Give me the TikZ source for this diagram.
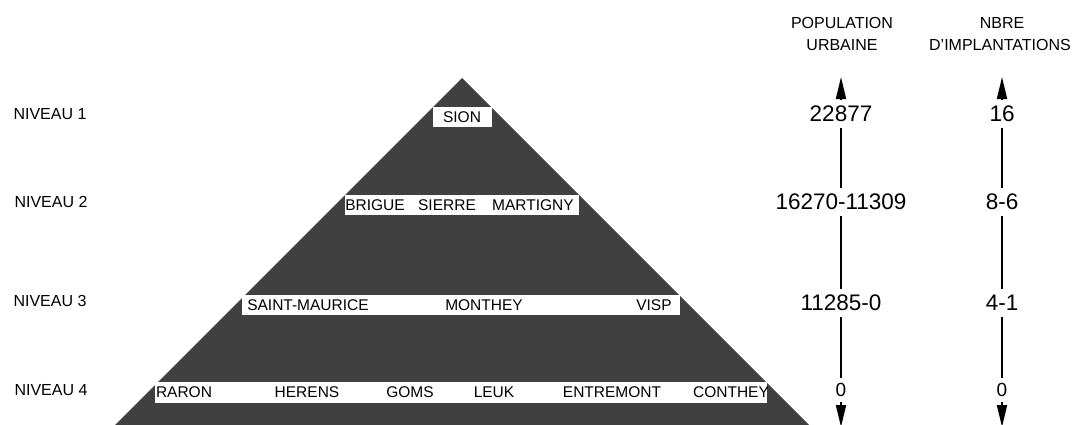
\documentclass[tikz,border=0pt]{standalone}
\usepackage{fontspec}
\setmainfont{Liberation Sans}
\usetikzlibrary{arrows.meta}
\tikzset{
  lvl/.style={anchor=west,font=\fontsize{16}{19}\selectfont},
  hdr/.style={font=\fontsize{16}{19}\selectfont},
  num/.style={font=\fontsize{22.5}{26}\selectfont,inner sep=6pt},
  numsmall/.style={font=\fontsize{19}{22}\selectfont,inner sep=5pt},
  bandtxt/.style={font=\fontsize{15.5}{18}\selectfont,inner sep=0pt},
  band/.style={fill=white},
  axis/.style={line width=1.8pt},
  axisarrow/.style={line width=1.8pt,-{Triangle[length=22pt,width=10pt]}}
}
\begin{document}
\begin{tikzpicture}[x=1pt,y=-1pt]
\useasboundingbox (0,0) rectangle (1075,424);
% pyramid
\fill[black!75] (462,78) -- (810,426) -- (114,426) -- cycle;
% bands
\fill[band] (433,107) rectangle (492,127);
\fill[band] (345,195) rectangle (579,215);
\fill[band] (242,295) rectangle (680,315);
\fill[band] (155,382) rectangle (767,403);
% band texts
\node[bandtxt] (sion) at (462,117) {SION};
\node[bandtxt] (brigue) at (375,205) {BRIGUE};
\node[bandtxt] (sierre) at (447,205) {SIERRE};
\node[bandtxt] (martigny) at (533,205) {MARTIGNY};
\node[bandtxt] (stmaurice) at (308,305) {SAINT-MAURICE};
\node[bandtxt] (monthey) at (484,305) {MONTHEY};
\node[bandtxt] (visp) at (654,305) {VISP};
\node[bandtxt] (raron) at (184,392) {RARON};
\node[bandtxt] (herens) at (307,392) {HERENS};
\node[bandtxt] (goms) at (410,392) {GOMS};
\node[bandtxt] (leuk) at (494,392) {LEUK};
\node[bandtxt] (entremont) at (612,392) {ENTREMONT};
\node[bandtxt] (conthey) at (731,392) {CONTHEY};
% level labels
\node[lvl] (n1) at (10,114) {NIVEAU 1};
\node[lvl] (n2) at (11,202) {NIVEAU 2};
\node[lvl] (n3) at (10,301) {NIVEAU 3};
\node[lvl] (n4) at (11,390) {NIVEAU 4};
% headers
\node[hdr] (h1a) at (842,23) {POPULATION};
\node[hdr] (h1b) at (842,45) {URBAINE};
\node[hdr] (h2a) at (1002,23) {NBRE};
\node[hdr] (h2b) at (1000,45) {D'IMPLANTATIONS};
% population axis
\node[num] (p1) at (841,114) {22877};
\node[num] (p2) at (841,202) {16270-11309};
\node[num] (p3) at (841,303) {11285-0};
\node[numsmall] (p4) at (841,390) {0};
\coordinate (ptop) at (841,77);
\coordinate (pbot) at (841,427);
\draw[axisarrow] (p1.north) -- (ptop);
\draw[axis] (p1.south) -- (p2.north);
\draw[axis] (p2.south) -- (p3.north);
\draw[axis] (p3.south) -- (p4.north);
\draw[axisarrow] (p4.south) -- (pbot);
% implantations axis
\node[num] (i1) at (1002,114) {16};
\node[num] (i2) at (1002,202) {8-6};
\node[num] (i3) at (1002,303) {4-1};
\node[numsmall] (i4) at (1002,390) {0};
\coordinate (itop) at (1002,77);
\coordinate (ibot) at (1002,427);
\draw[axisarrow] (i1.north) -- (itop);
\draw[axis] (i1.south) -- (i2.north);
\draw[axis] (i2.south) -- (i3.north);
\draw[axis] (i3.south) -- (i4.north);
\draw[axisarrow] (i4.south) -- (ibot);
\end{tikzpicture}
\end{document}
